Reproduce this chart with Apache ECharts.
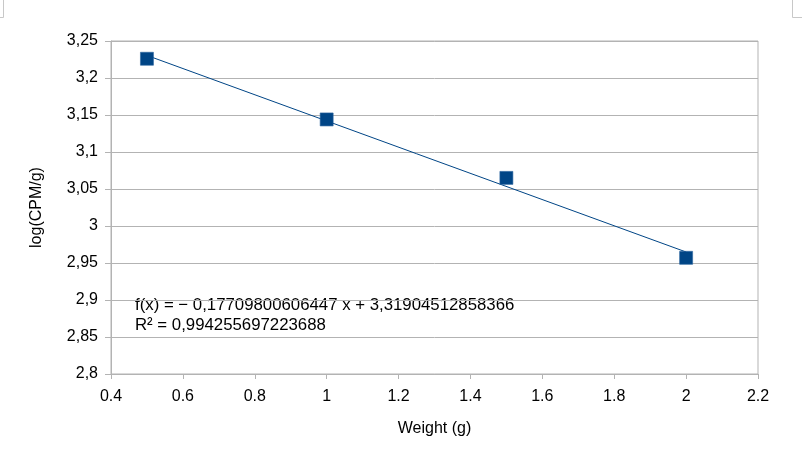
<!DOCTYPE html>
<html><head><meta charset="utf-8">
<script src="https://cdn.jsdelivr.net/npm/echarts@6/dist/echarts.min.js"></script>
<style>html,body{margin:0;padding:0;background:#fff}#c{width:802px;height:459px}</style>
</head><body><div id="c"></div>
<script>
const weights = [0.5, 1.0, 1.5, 2.0];
const logCpm = [3.226, 3.144, 3.065, 2.957];
const trendSlope = -0.17709800606447;
const trendIntercept = 3.31904512858366;
const trendX = [0.5, 2.0];
const eqText = 'f(x) = − 0,17709800606447 x + 3,31904512858366';
const r2Text = 'R² = 0,994255697223688';
const xName = 'Weight (g)';
const yName = 'log(CPM/g)';

const FONT = '"Liberation Sans", Arial, sans-serif';
const GRID = '#b3b3b3';
const BLUE = '#004586';
const chart = echarts.init(document.getElementById('c'), null, {renderer: 'canvas'});
chart.setOption({
  animation: false,
  backgroundColor: '#fff',
  grid: {left: 111, right: 44, top: 41, bottom: 85, show: true, borderColor: GRID, borderWidth: 1},
  xAxis: {
    type: 'value', min: 0.4, max: 2.2, interval: 0.2,
    name: xName, nameLocation: 'middle', nameGap: 47,
    nameTextStyle: {color: '#000', fontSize: 16, fontFamily: FONT},
    axisLine: {show: true, lineStyle: {color: GRID}},
    axisTick: {show: true, length: 5, lineStyle: {color: GRID}},
    axisLabel: {color: '#000', fontSize: 16, fontFamily: FONT, margin: 15,
      formatter: v => String(+v.toFixed(2))},
    splitLine: {show: false}
  },
  yAxis: {
    type: 'value', min: 2.8, max: 3.25, interval: 0.05,
    name: yName, nameLocation: 'middle', nameGap: 66, nameRotate: 90,
    nameTextStyle: {color: '#000', fontSize: 16, fontFamily: FONT},
    axisLine: {show: true, lineStyle: {color: GRID}},
    axisTick: {show: true, length: 6, lineStyle: {color: GRID}},
    axisLabel: {color: '#000', fontSize: 16, fontFamily: FONT, margin: 13,
      formatter: v => String(+v.toFixed(2)).replace('.', ',')},
    splitLine: {show: true, lineStyle: {color: GRID, width: 1}}
  },
  series: [
    {
      type: 'line', data: trendX.map(x => [x, trendIntercept + trendSlope * x]),
      symbol: 'none', lineStyle: {color: BLUE, width: 1}, z: 2, silent: true
    },
    {
      type: 'scatter', data: weights.map((w, i) => [w, logCpm[i]]),
      symbol: 'rect', symbolSize: 13,
      itemStyle: {color: BLUE, borderColor: '#2a64a0', borderWidth: 0.6, opacity: 1}, z: 3
    }
  ],
  graphic: [
    {type: 'text', left: 135, top: 297, style: {text: eqText, fill: '#000', font: '16.8px ' + FONT}},
    {type: 'text', left: 135, top: 317, style: {text: r2Text, fill: '#000', font: '16.8px ' + FONT}},
    {type: 'polyline', shape: {points: [[3.5, 0], [3.5, 17.5], [0, 17.5]]}, style: {stroke: '#c8c8c8', fill: null, lineWidth: 1}},
    {type: 'polyline', shape: {points: [[792.5, 0], [792.5, 17.5], [802, 17.5]]}, style: {stroke: '#c8c8c8', fill: null, lineWidth: 1}}
  ]
});
</script></body></html>
